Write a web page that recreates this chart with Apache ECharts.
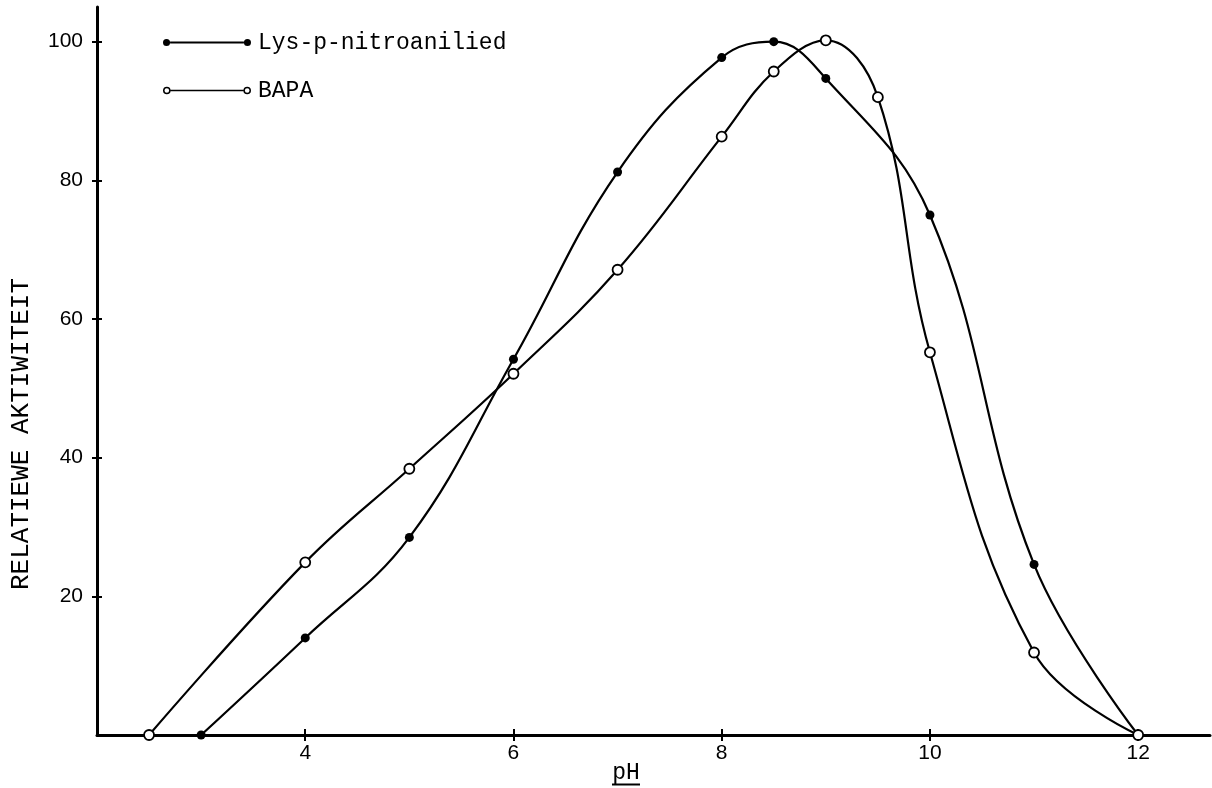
<!DOCTYPE html>
<html>
<head>
<meta charset="utf-8">
<script src="https://cdn.jsdelivr.net/npm/echarts@6/dist/echarts.min.js"></script>
<style>
html,body{margin:0;padding:0;background:#fff;}
#chart{width:1212px;height:788px;}
</style>
</head>
<body>
<div id="chart"></div>
<script>
// ---- data ----
var phLys  = [3, 4, 5, 6, 7, 8, 8.5, 9, 10, 11, 12];
var lysVal = [0, 14, 28.5, 54.2, 81.2, 97.7, 100, 94.7, 75, 24.6, 0];
var phBapa  = [2.5, 4, 5, 6, 7, 8, 8.5, 9, 9.5, 10, 11, 12];
var bapaVal = [0, 24.9, 38.4, 52.1, 67.1, 86.3, 95.7, 100.2, 92, 55.2, 11.9, 0];
var xTicks = [4, 6, 8, 10, 12];
var yTicks = [20, 40, 60, 80, 100];
var seriesNames = ['Lys-p-nitroanilied', 'BAPA'];
var xTitle = 'pH';
var yTitle = 'RELATIEWE AKTIWITEIT';

function pairs(xs, ys) { return xs.map(function (x, i) { return [x, ys[i]]; }); }

var mono = '"Liberation Mono", "DejaVu Sans Mono", monospace';
var sans = '"Liberation Sans", Arial, sans-serif';

var iconFilled = 'path://M0.5,4 A3.5,3.5 0 1,0 7.5,4 A3.5,3.5 0 1,0 0.5,4 Z M7.5,3.1 L80.5,3.1 L80.5,4.9 L7.5,4.9 Z M80.5,4 A3.5,3.5 0 1,0 87.5,4 A3.5,3.5 0 1,0 80.5,4 Z';
var iconOpen = 'path://M0.2,4 A3.8,3.8 0 1,0 7.8,4 A3.8,3.8 0 1,0 0.2,4 Z M1.7,4 A2.3,2.3 0 1,1 6.3,4 A2.3,2.3 0 1,1 1.7,4 Z M7.8,3.2 L80.2,3.2 L80.2,4.8 L7.8,4.8 Z M80.2,4 A3.8,3.8 0 1,0 87.8,4 A3.8,3.8 0 1,0 80.2,4 Z M81.7,4 A2.3,2.3 0 1,1 86.3,4 A2.3,2.3 0 1,1 81.7,4 Z';

var chart = echarts.init(document.getElementById('chart'), null, {renderer: 'canvas'});
var gridBox = {left: 97, right: 2, top: 7, bottom: 53, containLabel: false, outerBoundsMode: 'none'};
var xRange = {min: 2, max: 12.69};
var yRange = {min: 0, max: 105};

var option = {
  backgroundColor: '#ffffff',
  animation: false,
  grid: [Object.assign({}, gridBox), Object.assign({}, gridBox)],
  legend: {
    orient: 'vertical', left: 158, top: 26,
    itemWidth: 88, itemHeight: 9, itemGap: 25,
    textStyle: {fontFamily: mono, fontSize: 23, color: '#000', lineHeight: 21, padding: [0, 0, 0, 2]},
    data: [
      {name: seriesNames[0], icon: iconFilled, itemStyle: {color: '#000', borderWidth: 0}},
      {name: seriesNames[1], icon: iconOpen, itemStyle: {color: '#000', borderWidth: 0}}
    ],
    selectedMode: false
  },
  xAxis: [
    {
      type: 'value', gridIndex: 0, position: 'bottom', min: xRange.min, max: xRange.max,
      axisLine: {onZero: false, lineStyle: {color: '#000', width: 3}},
      axisTick: {show: true, inside: false, length: 6, customValues: xTicks, lineStyle: {color: '#000', width: 2}},
      axisLabel: {customValues: xTicks, margin: 8, fontFamily: sans, fontSize: 21, color: '#000'},
      splitLine: {show: false},
      name: '{t|' + xTitle + '}\n{u| }',
      nameLocation: 'middle', nameGap: 28, nameMoveOverlap: false,
      nameTextStyle: {
        padding: [0, 55, 0, 0],
        rich: {
          t: {fontFamily: mono, fontSize: 23, color: '#000', lineHeight: 20},
          u: {width: 28, height: 2, lineHeight: 3, fontSize: 2, backgroundColor: '#000'}
        }
      }
    },
    {
      type: 'value', gridIndex: 1, position: 'bottom', min: xRange.min, max: xRange.max,
      axisLine: {show: true, onZero: false, lineStyle: {color: 'rgba(0,0,0,0)', width: 1}},
      axisTick: {show: true, inside: true, length: 6, customValues: xTicks, lineStyle: {color: '#000', width: 2}},
      axisLabel: {show: false},
      splitLine: {show: false}
    }
  ],
  yAxis: [
    {
      type: 'value', gridIndex: 0, position: 'left', min: yRange.min, max: yRange.max,
      axisLine: {show: true, onZero: false, lineStyle: {color: '#000', width: 3}},
      axisTick: {show: true, inside: false, length: 5, customValues: yTicks, lineStyle: {color: '#000', width: 2}},
      axisLabel: {customValues: yTicks, margin: 14, fontFamily: sans, fontSize: 21, color: '#000'},
      splitLine: {show: false},
      name: yTitle,
      nameLocation: 'middle', nameRotate: 90, nameGap: 63, nameMoveOverlap: false,
      nameTextStyle: {fontFamily: mono, fontSize: 26, color: '#000', padding: [0, 126, 0, 0]}
    },
    {
      type: 'value', gridIndex: 1, position: 'left', min: yRange.min, max: yRange.max,
      axisLine: {show: true, onZero: false, lineStyle: {color: 'rgba(0,0,0,0)', width: 1}},
      axisTick: {show: true, inside: true, length: 5, customValues: yTicks, lineStyle: {color: '#000', width: 2}},
      axisLabel: {show: false},
      splitLine: {show: false}
    }
  ],
  series: [
    {
      name: seriesNames[0], type: 'line', xAxisIndex: 0, yAxisIndex: 0,
      data: pairs(phLys, lysVal), smooth: 0.4,
      symbol: 'circle', symbolSize: 9, showAllSymbol: true,
      lineStyle: {color: '#000', width: 2.2},
      itemStyle: {color: '#000', borderWidth: 0},
      z: 3
    },
    {
      name: seriesNames[1], type: 'line', xAxisIndex: 0, yAxisIndex: 0,
      data: pairs(phBapa, bapaVal), smooth: 0.4,
      symbol: 'circle', symbolSize: 10, showAllSymbol: true,
      lineStyle: {color: '#000', width: 2.2},
      itemStyle: {color: '#fff', borderColor: '#000', borderWidth: 1.8},
      z: 4
    },
    {
      name: 'ticks', type: 'line', xAxisIndex: 1, yAxisIndex: 1,
      data: [], silent: true, symbol: 'none'
    }
  ]
};
chart.setOption(option);
</script>
</body>
</html>
